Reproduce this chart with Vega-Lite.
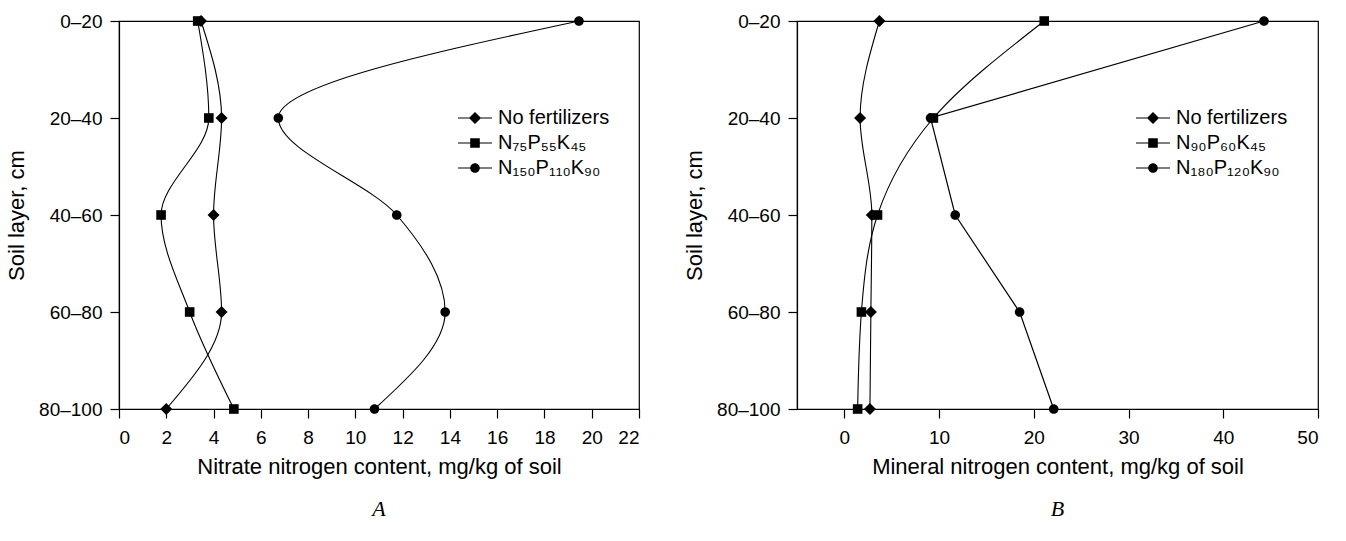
{
  "$schema": "https://vega.github.io/schema/vega-lite/v6.json",
  "background": "white",
  "padding": {"left": 4, "top": 11, "right": 20, "bottom": 5},
  "config": {
    "font": "Liberation Sans",
    "view": {"stroke": "black", "strokeWidth": 1.2},
    "axis": {
      "domainColor": "black", "domainWidth": 1.2, "tickColor": "black", "tickWidth": 1.2, "tickSize": 9,
      "labelColor": "black", "labelFontSize": 19, "labelFont": "Liberation Sans",
      "titleColor": "black", "titleFontSize": 22, "titleFontWeight": "normal", "titleFont": "Liberation Sans",
      "grid": false
    },
    "legend": {
      "orient": "none", "legendX": 346, "legendY": 87, "title": null, "padding": 0,
      "symbolSize": 289, "symbolOpacity": 1, "symbolFillColor": "black", "symbolStrokeWidth": 0,
      "labelFontSize": 20, "labelColor": "black", "labelFont": "Liberation Sans", "labelOffset": 13, "rowPadding": 5
    },
    "title": {"font": "Liberation Serif", "fontStyle": "italic", "fontWeight": "normal", "fontSize": 22, "color": "black", "orient": "bottom", "offset": 22}
  },
  "datasets": {
    "a": [
      {"layer": "0–20", "value": 3.47, "series": "No fertilizers"},
      {"layer": "20–40", "value": 4.34, "series": "No fertilizers"},
      {"layer": "40–60", "value": 4.0, "series": "No fertilizers"},
      {"layer": "60–80", "value": 4.34, "series": "No fertilizers"},
      {"layer": "80–100", "value": 2.0, "series": "No fertilizers"},
      {"layer": "0–20", "value": 3.33, "series": "N₇₅P₅₅K₄₅"},
      {"layer": "20–40", "value": 3.8, "series": "N₇₅P₅₅K₄₅"},
      {"layer": "40–60", "value": 1.78, "series": "N₇₅P₅₅K₄₅"},
      {"layer": "60–80", "value": 2.99, "series": "N₇₅P₅₅K₄₅"},
      {"layer": "80–100", "value": 4.86, "series": "N₇₅P₅₅K₄₅"},
      {"layer": "0–20", "value": 19.46, "series": "N₁₅₀P₁₁₀K₉₀"},
      {"layer": "20–40", "value": 6.74, "series": "N₁₅₀P₁₁₀K₉₀"},
      {"layer": "40–60", "value": 11.75, "series": "N₁₅₀P₁₁₀K₉₀"},
      {"layer": "60–80", "value": 13.8, "series": "N₁₅₀P₁₁₀K₉₀"},
      {"layer": "80–100", "value": 10.81, "series": "N₁₅₀P₁₁₀K₉₀"}
    ],
    "b": [
      {"layer": "0–20", "value": 3.7, "series": "No fertilizers"},
      {"layer": "20–40", "value": 1.66, "series": "No fertilizers"},
      {"layer": "40–60", "value": 2.9, "series": "No fertilizers"},
      {"layer": "60–80", "value": 2.8, "series": "No fertilizers"},
      {"layer": "80–100", "value": 2.7, "series": "No fertilizers"},
      {"layer": "0–20", "value": 21.1, "series": "N₉₀P₆₀K₄₅"},
      {"layer": "20–40", "value": 9.4, "series": "N₉₀P₆₀K₄₅"},
      {"layer": "40–60", "value": 3.5, "series": "N₉₀P₆₀K₄₅"},
      {"layer": "60–80", "value": 1.8, "series": "N₉₀P₆₀K₄₅"},
      {"layer": "80–100", "value": 1.4, "series": "N₉₀P₆₀K₄₅"},
      {"layer": "0–20", "value": 44.3, "series": "N₁₈₀P₁₂₀K₉₀"},
      {"layer": "20–40", "value": 9.1, "series": "N₁₈₀P₁₂₀K₉₀"},
      {"layer": "40–60", "value": 11.7, "series": "N₁₈₀P₁₂₀K₉₀"},
      {"layer": "60–80", "value": 18.5, "series": "N₁₈₀P₁₂₀K₉₀"},
      {"layer": "80–100", "value": 22.1, "series": "N₁₈₀P₁₂₀K₉₀"}
    ]
  },
  "spacing": 41,
  "resolve": {"scale": {"x": "independent", "y": "independent", "shape": "independent"}, "legend": {"shape": "independent"}},
  "hconcat": [
    {
      "width": 520, "height": 388,
      "data": {"name": "a"},
      "title": {"text": "A"},
      "encoding": {
        "y": {"field": "layer", "type": "ordinal", "sort": ["0–20", "20–40", "40–60", "60–80", "80–100"],
              "scale": {"type": "point", "padding": 0, "domain": ["0–20", "20–40", "40–60", "60–80", "80–100"]},
              "axis": {"title": "Soil layer, cm", "labelPadding": 8, "titlePadding": 10}},
        "x": {"field": "value", "type": "quantitative", "scale": {"domain": [0, 22], "nice": false, "zero": false},
              "axis": {"values": [0, 2, 4, 6, 8, 10, 12, 14, 16, 18, 20, 22], "title": "Nitrate nitrogen content, mg/kg of soil", "labelPadding": 10, "titlePadding": 9}}
      },
      "layer": [
        {"mark": {"type": "area", "interpolate": "monotone", "orient": "horizontal", "fillOpacity": 0, "stroke": "black", "strokeWidth": 1.1},
         "encoding": {"x2": {"field": "value"}, "detail": {"field": "series"}}},
        {"mark": {"type": "point", "filled": true, "color": "black", "opacity": 1, "size": 144},
         "encoding": {"shape": {"field": "series", "type": "nominal",
           "scale": {"domain": ["No fertilizers", "N₇₅P₅₅K₄₅", "N₁₅₀P₁₁₀K₉₀"],
                     "range": ["M0,-1L1,0L0,1L-1,0Z", "M-0.8,-0.8H0.8V0.8H-0.8Z", "M0.8,0A0.8,0.8,0,1,1,-0.8,0A0.8,0.8,0,1,1,0.8,0Z"]},
           "legend": null}}},
        {"transform": [{"filter": "datum.value < -1000"}],
         "mark": {"type": "point", "filled": true, "color": "black", "opacity": 1},
         "encoding": {"shape": {"field": "series", "type": "nominal",
           "scale": {"domain": ["No fertilizers", "N₇₅P₅₅K₄₅", "N₁₅₀P₁₁₀K₉₀"],
                     "range": ["M-2,-0.07H2V0.07H-2Z M0,-0.71L0.71,0L0,0.71L-0.71,0Z", "M-2,-0.07H2V0.07H-2Z M-0.565,-0.565H0.565V0.565H-0.565Z", "M-2,-0.07H2V0.07H-2Z M0.565,0A0.565,0.565,0,1,1,-0.565,0A0.565,0.565,0,1,1,0.565,0Z"]},
           "legend": {}}}}
      ],
      "resolve": {"scale": {"shape": "independent"}}
    },
    {
      "width": 521, "height": 388,
      "data": {"name": "b"},
      "title": {"text": "B"},
      "encoding": {
        "y": {"field": "layer", "type": "ordinal", "sort": ["0–20", "20–40", "40–60", "60–80", "80–100"],
              "scale": {"type": "point", "padding": 0, "domain": ["0–20", "20–40", "40–60", "60–80", "80–100"]},
              "axis": {"title": "Soil layer, cm", "labelPadding": 8, "titlePadding": 10}},
        "x": {"field": "value", "type": "quantitative", "scale": {"domain": [-5, 50], "nice": false, "zero": false},
              "axis": {"values": [0, 10, 20, 30, 40, 50], "title": "Mineral nitrogen content, mg/kg of soil", "labelPadding": 10, "titlePadding": 9}}
      },
      "layer": [
        {"transform": [{"filter": "datum.series !== 'N₁₈₀P₁₂₀K₉₀'"}],
         "mark": {"type": "area", "interpolate": "monotone", "orient": "horizontal", "fillOpacity": 0, "stroke": "black", "strokeWidth": 1.1},
         "encoding": {"x2": {"field": "value"}, "detail": {"field": "series"}}},
        {"transform": [{"filter": "datum.series === 'N₁₈₀P₁₂₀K₉₀'"}],
         "mark": {"type": "line", "interpolate": "linear", "orient": "horizontal", "color": "black", "strokeWidth": 1.2},
         "encoding": {"detail": {"field": "series"}}},
        {"mark": {"type": "point", "filled": true, "color": "black", "opacity": 1, "size": 144},
         "encoding": {"shape": {"field": "series", "type": "nominal",
           "scale": {"domain": ["No fertilizers", "N₉₀P₆₀K₄₅", "N₁₈₀P₁₂₀K₉₀"],
                     "range": ["M0,-1L1,0L0,1L-1,0Z", "M-0.8,-0.8H0.8V0.8H-0.8Z", "M0.8,0A0.8,0.8,0,1,1,-0.8,0A0.8,0.8,0,1,1,0.8,0Z"]},
           "legend": null}}},
        {"transform": [{"filter": "datum.value < -1000"}],
         "mark": {"type": "point", "filled": true, "color": "black", "opacity": 1},
         "encoding": {"shape": {"field": "series", "type": "nominal",
           "scale": {"domain": ["No fertilizers", "N₉₀P₆₀K₄₅", "N₁₈₀P₁₂₀K₉₀"],
                     "range": ["M-2,-0.07H2V0.07H-2Z M0,-0.71L0.71,0L0,0.71L-0.71,0Z", "M-2,-0.07H2V0.07H-2Z M-0.565,-0.565H0.565V0.565H-0.565Z", "M-2,-0.07H2V0.07H-2Z M0.565,0A0.565,0.565,0,1,1,-0.565,0A0.565,0.565,0,1,1,0.565,0Z"]},
           "legend": {}}}}
      ],
      "resolve": {"scale": {"shape": "independent"}}
    }
  ]
}
